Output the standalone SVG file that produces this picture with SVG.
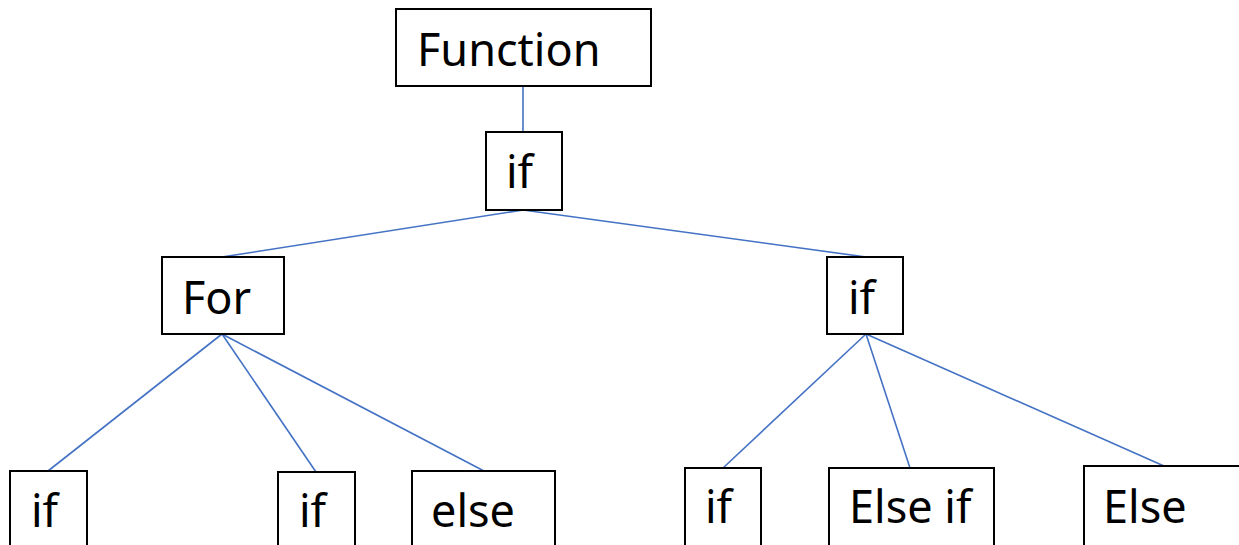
<svg xmlns="http://www.w3.org/2000/svg" width="1239" height="545" viewBox="0 0 1239 545">
<style>
.box{fill:#fff;stroke:#000;stroke-width:2}
.t{font-family:"Noto Sans","Open Sans",sans-serif;font-size:45px;fill:#000}
.c{stroke:#4472C4;stroke-width:1.6;fill:none}
</style>
<rect width="1239" height="545" fill="#fff"/>
<g id="connectors">
<line class="c" x1="523" y1="86" x2="523" y2="132"/>
<line class="c" x1="523" y1="210" x2="222" y2="257"/>
<line class="c" x1="523" y1="210" x2="866" y2="257"/>
<line class="c" x1="222" y1="334" x2="48" y2="471"/>
<line class="c" x1="222" y1="334" x2="316" y2="472"/>
<line class="c" x1="222" y1="334" x2="484" y2="471"/>
<line class="c" x1="866" y1="334" x2="723" y2="468"/>
<line class="c" x1="866" y1="334" x2="910" y2="468"/>
<line class="c" x1="866" y1="334" x2="1164" y2="466"/>
</g>
<g id="function"><rect class="box" x="396" y="9" width="255" height="77"/><text class="t" x="417" y="66">Function</text></g>
<g id="if_root"><rect class="box" x="486" y="132" width="76" height="78"/><text class="t" x="506" y="188">if</text></g>
<g id="for"><rect class="box" x="162" y="257" width="122" height="77"/><text class="t" x="182" y="314">For</text></g>
<g id="if_right"><rect class="box" x="827" y="257" width="76" height="77"/><text class="t" x="848" y="314">if</text></g>
<g id="if_a"><rect class="box" x="10" y="471" width="77" height="100"/><text class="t" x="31" y="527">if</text></g>
<g id="if_b"><rect class="box" x="278" y="472" width="77" height="100"/><text class="t" x="299" y="527">if</text></g>
<g id="else"><rect class="box" x="412" y="471" width="143" height="100"/><text class="t" x="431" y="527">else</text></g>
<g id="if_c"><rect class="box" x="685" y="468" width="76" height="100"/><text class="t" x="705" y="523">if</text></g>
<g id="elseif"><rect class="box" x="829" y="468" width="165" height="100"/><text class="t" x="849" y="523">Else if</text></g>
<g id="else2"><rect class="box" x="1084" y="466" width="170" height="100"/><text class="t" x="1103" y="523">Else</text></g>
</svg>
